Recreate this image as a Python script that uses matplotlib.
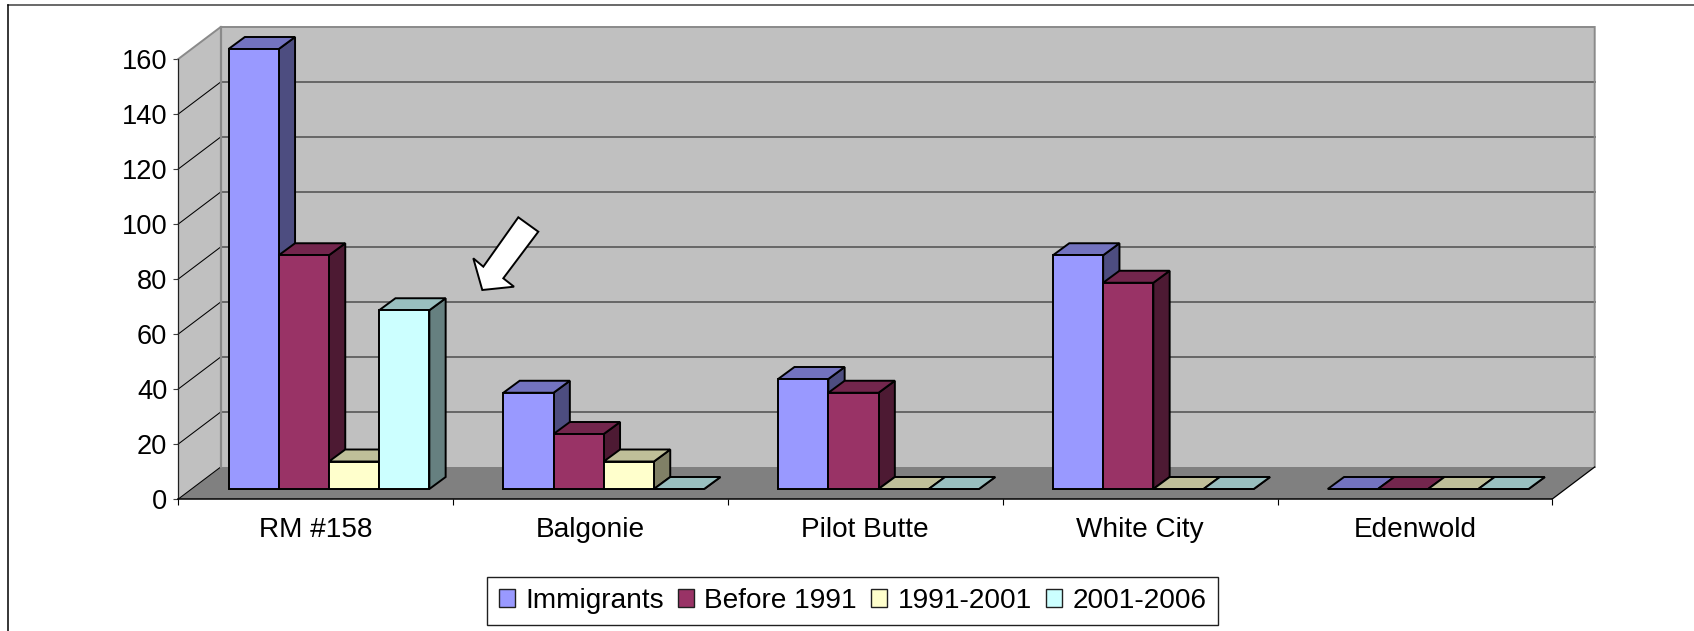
"""Immigrant counts by community and arrival period, drawn as Excel style 3D columns."""

import matplotlib

matplotlib.use("Agg")
import matplotlib.pyplot as plt
from matplotlib.lines import Line2D
from matplotlib.patches import Patch, Polygon

# data
categories = ["RM #158", "Balgonie", "Pilot Butte", "White City", "Edenwold"]
series_names = ["Immigrants", "Before 1991", "1991-2001", "2001-2006"]
immigrants = [160, 35, 40, 85, 0]
before_1991 = [85, 20, 35, 75, 0]
period_1991_2001 = [10, 10, 0, 0, 0]
period_2001_2006 = [65, 0, 0, 0, 0]
y_ticks = [0, 20, 40, 60, 80, 100, 120, 140, 160]

all_series = [immigrants, before_1991, period_1991_2001, period_2001_2006]

front_colors = ["#9999FF", "#993366", "#FFFFCC", "#CCFFFF"]
top_colors = ["#7373BF", "#73264D", "#BFBF99", "#99BFBF"]
side_colors = ["#4D4D80", "#4D1A33", "#808066", "#668080"]

# picture geometry, in pixels of the 1694x631 image
W, H = 1694, 631
FRONT_LEFT, FRONT_RIGHT = 178.3, 1552.3
FRONT_BOTTOM, FRONT_TOP = 499.0, 59.0
PX_X = (FRONT_RIGHT - FRONT_LEFT) / len(categories)
PX_Y = (FRONT_BOTTOM - FRONT_TOP) / 160

# depth offsets, converted to data units
WALL_DX, WALL_DY = 42.4 / PX_X, 32 / PX_Y
BAR_DX, BAR_DY = 16.3 / PX_X, 12 / PX_Y
BAR_X0, BAR_Y0 = 13.25 / PX_X, 10 / PX_Y
BAR_W = 50.2 / PX_X
GROUP_START = 37.0 / PX_X

plt.rcParams["font.family"] = ["Liberation Sans", "DejaVu Sans"]
FONT = 20.2
TICK_FONT = 19.6


def fig_xy(x, y):
    return (x / W, 1 - y / H)


fig = plt.figure(figsize=(W / 100, H / 100), dpi=100)
ax = fig.add_axes([FRONT_LEFT / W, 1 - FRONT_BOTTOM / H,
                   (FRONT_RIGHT - FRONT_LEFT) / W, (FRONT_BOTTOM - FRONT_TOP) / H])
ax.set_xlim(0, len(categories))
ax.set_ylim(0, 160)
ax.patch.set_visible(False)


def poly(points, face, edge="none", lw=0.0, z=1):
    ax.add_patch(Polygon(points, closed=True, facecolor=face, edgecolor=edge,
                         linewidth=lw, zorder=z, clip_on=False, joinstyle="miter"))


# walls and floor
n = len(categories)
poly([(0, 0), (0, 160), (WALL_DX, 160 + WALL_DY), (WALL_DX, WALL_DY)], "#C0C0C0")
poly([(WALL_DX, WALL_DY), (WALL_DX, 160 + WALL_DY), (n + WALL_DX, 160 + WALL_DY),
      (n + WALL_DX, WALL_DY)], "#C0C0C0")
poly([(0, 0), (WALL_DX, WALL_DY), (n + WALL_DX, WALL_DY), (n, 0)], "#808080")

for v in y_ticks[1:-1]:
    ax.plot([WALL_DX, n + WALL_DX], [v + WALL_DY, v + WALL_DY], color="#666666",
            lw=1.4, zorder=2, clip_on=False)
for v in y_ticks[:-1]:
    ax.plot([0, WALL_DX], [v, v + WALL_DY], color="black", lw=0.75, zorder=2, clip_on=False)

# wall outline
ax.plot([0, WALL_DX, n + WALL_DX, n + WALL_DX], [160, 160 + WALL_DY, 160 + WALL_DY, WALL_DY],
        color="#8A8A8A", lw=1.4, zorder=2, clip_on=False, solid_joinstyle="miter")
ax.plot([WALL_DX, WALL_DX], [WALL_DY, 160 + WALL_DY], color="#8A8A8A", lw=1.6, zorder=2,
        clip_on=False)
ax.plot([n, n + WALL_DX], [0, WALL_DY], color="black", lw=0.9, zorder=3, clip_on=False)

# columns, left to right so that every column covers the side of the one before it
for i, values in enumerate(all_series):
    x_pos = [c + BAR_X0 + GROUP_START + i * BAR_W for c in range(n)]
    base_z = 4 + 3 * i
    for x, v in zip(x_pos, values):
        top = BAR_Y0 + v
        poly([(x + BAR_W, BAR_Y0), (x + BAR_W, top), (x + BAR_W + BAR_DX, top + BAR_DY),
              (x + BAR_W + BAR_DX, BAR_Y0 + BAR_DY)], side_colors[i], "black", 1.4, base_z)
        poly([(x, top), (x + BAR_W, top), (x + BAR_W + BAR_DX, top + BAR_DY),
              (x + BAR_DX, top + BAR_DY)], top_colors[i], "black", 1.4, base_z + 1)
    ax.bar(x_pos, values, BAR_W, bottom=BAR_Y0, align="edge", color=front_colors[i],
           edgecolor="black", linewidth=1.4, zorder=base_z + 2, clip_on=False)

# axes
for name in ["top", "right"]:
    ax.spines[name].set_visible(False)
ax.spines["left"].set_color("#202020")
ax.spines["left"].set_linewidth(0.9)
ax.spines["bottom"].set_color("black")
ax.spines["bottom"].set_linewidth(1.1)
ax.spines["left"].set_zorder(3)
ax.spines["bottom"].set_zorder(3)

ax.set_yticks(y_ticks)
ax.set_yticklabels([str(v) for v in y_ticks])
ax.tick_params(axis="y", length=3.6, width=0.8, color="#404040", pad=4.3, labelsize=TICK_FONT,
               labelcolor="black")
ax.set_xticks(range(n + 1))
ax.set_xticklabels([])
ax.set_xticks([c + 0.5 for c in range(n)], minor=True)
ax.set_xticklabels(categories, minor=True)
ax.tick_params(axis="x", which="major", length=4.5, width=0.8, color="black")
ax.tick_params(axis="x", which="minor", length=0, pad=13, labelsize=FONT, labelcolor="black")

# legend
handles = [Patch(facecolor=c, edgecolor="#202020", linewidth=1.0, label=s)
           for c, s in zip(front_colors, series_names)]
leg = fig.legend(handles=handles, loc="center", bbox_to_anchor=fig_xy(852.6, 600.8), ncol=4,
                 fontsize=FONT, frameon=True, fancybox=False, framealpha=1,
                 edgecolor="#202020", handlelength=0.58, handleheight=0.58,
                 handletextpad=0.37, columnspacing=0.5, borderpad=0.4, borderaxespad=0)
leg.get_frame().set_linewidth(1.0)

# white arrow pointing at the RM #158 columns
arrow_px = [(518.3, 217.3), (538.3, 231.7), (503.3, 278.3), (514, 286.7),
            (482.3, 290), (473.3, 258.3), (483.3, 266.7)]
fig.add_artist(Polygon([fig_xy(*p) for p in arrow_px], closed=True, facecolor="white",
                       edgecolor="black", linewidth=1.4, transform=fig.transFigure,
                       zorder=30, joinstyle="miter"))

# frame of the pasted picture: only top and left are inside the crop
fig.add_artist(Line2D([fig_xy(8, 5)[0], 1], [fig_xy(8, 5)[1]] * 2, color="#404040", lw=1.1))
fig.add_artist(Line2D([fig_xy(8, 5)[0]] * 2, [fig_xy(8, 5)[1], 0], color="black", lw=1.1))

fig.savefig("out.png", dpi=100)
